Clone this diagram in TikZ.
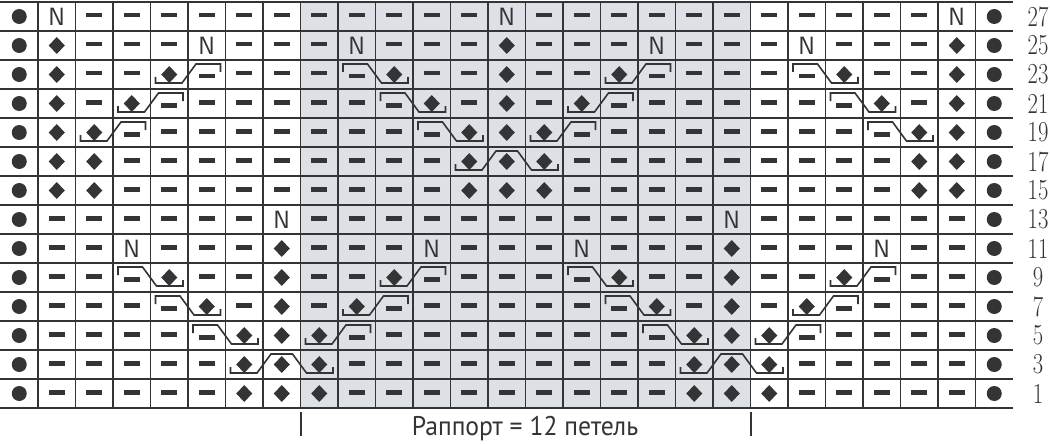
\documentclass[tikz,border=0pt]{standalone}
\usepackage{fontspec}
\usepackage{graphicx}
\newfontfamily\capfont{PT Sans}
\definecolor{ink}{RGB}{52,52,55}
\definecolor{repeatbg}{RGB}{221,225,230}
\tikzset{
  gridline/.style={draw=ink,line width=1.8pt},
  bracket/.style={draw=ink,line width=1.6pt,line join=miter},
  ntext/.style={font=\sffamily\fontsize{25}{25}\selectfont,text=ink,inner sep=0pt},
  rownum/.style={font=\fontsize{29}{29}\selectfont,text=ink,inner sep=0pt},
  captext/.style={font=\capfont\fontsize{27}{27}\selectfont,text=ink,inner sep=0pt},
}
% chart symbols, drawn at (\cx,\cy)
\newcommand\stO{\fill[ink] (\cx,\cy) circle[radius=7.5pt];}
\newcommand\stD{\fill[ink] (\cx-8,\cy) -- (\cx,\cy-8.5) -- (\cx+8,\cy) -- (\cx,\cy+8.5) -- cycle;}
\newcommand\stK{\fill[ink] (\cx-8,\cy-3.5) rectangle (\cx+8,\cy+1);}
\newcommand\stL{\fill[ink] (\cx-8,\cy-0.5) rectangle (\cx+8,\cy+4);}
\newcommand\stN{\node[ntext] (n-\c-\currow) at (\cx,\cy) {N};}
% one row of the chart: row number, symbols from left to right
\newcommand\chartrow[2]{%
  \def\currow{#1}%
  \pgfmathsetmacro\cy{16.5+14.5*(27-#1)}%
  \foreach \s [count=\c from 0] in {#2} {%
    \pgfmathsetmacro\cx{19.25+37.5*\c}%
    \csname st\s\endcsname
  }%
}
% crossings: column of left cell, row number
\newcommand\crossup[2]{\begin{scope}[shift={({0.5+37.5*#1},{2+14.5*(27-#2)})}]
  \draw[bracket] (5,17) -- (5,23) -- (31.5,23) -- (45.5,4) -- (70,4) -- (70,12);
\end{scope}}
\newcommand\crossdown[2]{\begin{scope}[shift={({0.5+37.5*#1},{2+14.5*(27-#2)})}]
  \draw[bracket] (5,12) -- (5,4) -- (29.5,4) -- (43.5,23) -- (70,23) -- (70,17);
\end{scope}}
\newcommand\crosshat[2]{\begin{scope}[shift={({0.5+37.5*#1},{2+14.5*(27-#2)})}]
  \draw[bracket] (5,17) -- (5,23) -- (31.5,23) -- (45.5,4) -- (67,4) -- (81,23) -- (107.5,23) -- (107.5,17);
\end{scope}}

\begin{document}
\begin{tikzpicture}[x=1pt,y=-1pt]
  \useasboundingbox[fill=white] (0,0) rectangle (1050,444);
  % repeat area and grid
  \fill[repeatbg] (300.5,2) rectangle (750.5,408);
  \foreach \k in {1,...,26}
    \draw[gridline] ({0.5+37.5*\k},2) -- ({0.5+37.5*\k},408);
  \foreach \k in {0,...,14}
    \draw[gridline] (0,{2+29*\k}) -- (1012.5,{2+29*\k});

  \chartrow{27}{O,N,K,K,K,K,K,K,K,K,K,K,K,N,K,K,K,K,K,K,K,K,K,K,K,N,O}
  \chartrow{25}{O,D,K,K,K,N,K,K,K,N,K,K,K,D,K,K,K,N,K,K,K,N,K,K,K,D,O}
  \chartrow{23}{O,D,K,K,D,L,K,K,K,L,D,K,K,D,K,K,D,L,K,K,K,L,D,K,K,D,O}
  \chartrow{21}{O,D,K,D,L,K,K,K,K,K,L,D,K,D,K,D,L,K,K,K,K,K,L,D,K,D,O}
  \chartrow{19}{O,D,D,L,K,K,K,K,K,K,K,L,D,D,D,L,K,K,K,K,K,K,K,L,D,D,O}
  \chartrow{17}{O,D,D,K,K,K,K,K,K,K,K,K,D,D,D,K,K,K,K,K,K,K,K,K,D,D,O}
  \chartrow{15}{O,D,D,K,K,K,K,K,K,K,K,K,D,D,D,K,K,K,K,K,K,K,K,K,D,D,O}
  \chartrow{13}{O,K,K,K,K,K,K,N,K,K,K,K,K,K,K,K,K,K,K,N,K,K,K,K,K,K,O}
  \chartrow{11}{O,K,K,N,K,K,K,D,K,K,K,N,K,K,K,N,K,K,K,D,K,K,K,N,K,K,O}
  \chartrow{9}{O,K,K,L,D,K,K,D,K,K,D,L,K,K,K,L,D,K,K,D,K,K,D,L,K,K,O}
  \chartrow{7}{O,K,K,K,L,D,K,D,K,D,L,K,K,K,K,K,L,D,K,D,K,D,L,K,K,K,O}
  \chartrow{5}{O,K,K,K,K,L,D,D,D,L,K,K,K,K,K,K,K,L,D,D,D,L,K,K,K,K,O}
  \chartrow{3}{O,K,K,K,K,K,D,D,D,K,K,K,K,K,K,K,K,K,D,D,D,K,K,K,K,K,O}
  \chartrow{1}{O,K,K,K,K,K,D,D,D,K,K,K,K,K,K,K,K,K,D,D,D,K,K,K,K,K,O}

  % crossings
  \foreach \c/\r in {4/23,16/23,3/21,15/21,2/19,14/19,10/9,22/9,9/7,21/7,8/5,20/5}
    \crossup{\c}{\r};
  \foreach \c/\r in {9/23,21/23,10/21,22/21,11/19,23/19,3/9,15/9,4/7,16/7,5/5,17/5}
    \crossdown{\c}{\r};
  \foreach \c/\r in {12/17,6/3,18/3}
    \crosshat{\c}{\r};

  % row numbers
  \foreach \r in {1,3,...,27}
    \node[rownum] (num-\r) at (1038,{16.5+14.5*(27-\r)}) {\scalebox{0.78}[1]{\r}};

  % repeat marks and caption
  \coordinate (rep-l) at (301,412);
  \coordinate (rep-r) at (751,412);
  \draw[ink,line width=1.5pt] (rep-l) -- ++(0,24);
  \draw[ink,line width=1.5pt] (rep-r) -- ++(0,24);
  \node[captext] (rapport) at (525,429) {\scalebox{0.95}[1]{Раппорт = 12 петель}};
\end{tikzpicture}
\end{document}
